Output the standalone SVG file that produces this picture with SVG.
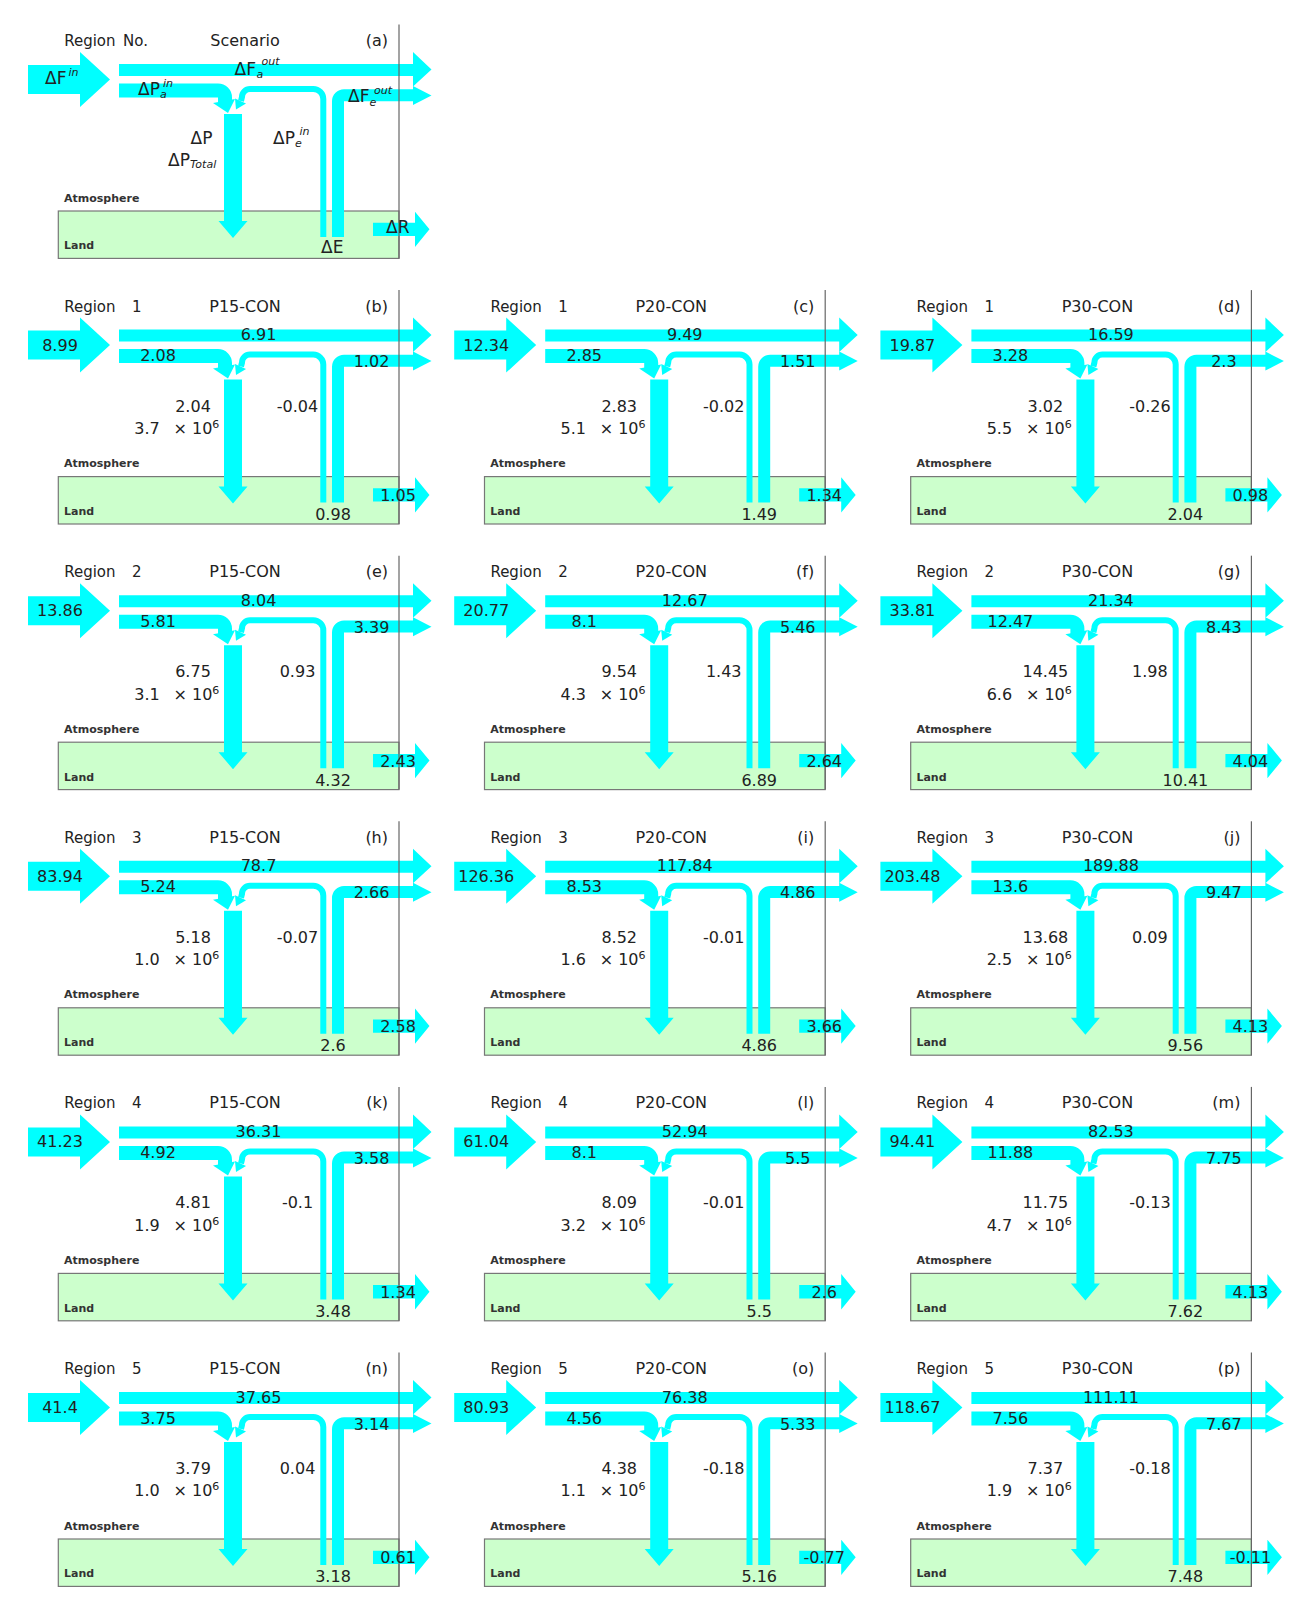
<svg xmlns="http://www.w3.org/2000/svg" width="1298" height="1613" viewBox="0 0 1298 1613">
<style>
text{font-family:"DejaVu Sans","Liberation Sans",sans-serif;fill:#222}
.h{font-size:15px}
.s{font-size:16px;text-anchor:middle}
.e{font-size:16px;text-anchor:end}
.v{font-size:16px;text-anchor:middle}
.t{font-size:16px}
.d{font-size:17px}
.sup{font-size:11px}
.it{font-size:11px;font-style:italic}
.lbl{font-size:11px;font-weight:bold;fill:#333}
.flow{fill:#00ffff}
.band{fill:none;stroke:#00ffff}
</style>
<defs>
<g id="frame">
<rect x="58.3" y="211" width="340.7" height="47.4" fill="#ccffcc" stroke="#777" stroke-width="1.2"/>
<text class="lbl" x="64" y="201.7">Atmosphere</text>
<text class="lbl" x="64" y="249.4">Land</text>
<g class="connectors">
<polygon class="flow" points="28,65 80,65 80,52 110,79.5 80,107 80,94 28,94"/>
<polygon class="flow" points="119,64 413,64 413,52 431.5,69.5 413,86.5 413,76 119,76"/>
<path class="band" stroke-width="14" d="M119,90.5 H218 A7 7 0 0 1 225 97.5 V103"/>
<polygon class="flow" points="213,103 235,99 228,113"/>
<path class="band" stroke-width="6" d="M323.3,237 V99 A10 10 0 0 0 313.3 89 H250 A8 8 0 0 0 242 97 L241 101"/>
<polygon class="flow" points="235,98.5 246,103.5 236,109.5"/>
<polygon class="flow" points="224,114 242,114 242,221 247.5,221 233,238 218.5,221 224,221"/>
<path class="band" stroke-width="12" d="M338,237 V101.2 A6 6 0 0 1 344 95.2 H414"/>
<polygon class="flow" points="413,86 431.5,95.5 413,105"/>
<polygon class="flow" points="373,222.7 415,222.7 415,211.7 429.5,229.3 415,247 415,236 373,236"/>
</g>
<line x1="399" y1="24.5" x2="399" y2="258.4" stroke="#666" stroke-width="1.2"/>
</g>
</defs>

<g id="panel-a">
<use href="#frame"/>
<text class="h" x="64.2" y="46">Region</text>
<text class="h" x="123" y="46">No.</text>
<text class="s" x="245" y="46">Scenario</text>
<text class="e" x="388" y="46">(a)</text>
<text class="d" x="45" y="83.5">ΔF<tspan class="it" x="68.5" y="76">in</tspan></text>
<text class="d" x="234.5" y="75">ΔF<tspan class="it" x="256.5" y="78.3">a</tspan><tspan class="it" x="261.5" y="65">out</tspan></text>
<text class="d" x="138" y="95">ΔP<tspan class="it" x="160" y="98.3">a</tspan><tspan class="it" x="163" y="86.7">in</tspan></text>
<text class="d" x="348" y="101.7">ΔF<tspan class="it" x="369.5" y="106">e</tspan><tspan class="it" x="374" y="94">out</tspan></text>
<text class="d" x="190.5" y="144">ΔP</text>
<text class="d" x="168" y="165.7">ΔP<tspan class="it" x="190" y="168.3">Total</tspan></text>
<text class="d" x="273" y="144">ΔP<tspan class="it" x="295" y="146.7">e</tspan><tspan class="it" x="299.5" y="135">in</tspan></text>
<text class="d" x="321" y="253.3">ΔE</text>
<text class="d" x="386" y="233.3">ΔR</text>
</g>

<g id="panel-b" transform="translate(0,265.6)">
<use href="#frame"/>
<text class="h" x="64.2" y="46">Region</text><text class="h" x="132" y="46">1</text>
<text class="s" x="245" y="46">P15-CON</text><text class="e" x="388" y="46">(b)</text>
<text class="v" x="60" y="85">8.99</text><text class="v" x="258.5" y="74.5">6.91</text>
<text class="v" x="158" y="95.5">2.08</text><text class="v" x="371.5" y="101.5">1.02</text>
<text class="v" x="193" y="146">2.04</text><text class="v" x="147" y="168.4">3.7</text>
<text class="t" x="173.5" y="168.4">× 10<tspan class="sup" dy="-6">6</tspan></text>
<text class="v" x="297.5" y="146">-0.04</text><text class="v" x="333" y="254.4">0.98</text>
<text class="v" x="398" y="235.4">1.05</text>
</g>

<g id="panel-c" transform="translate(426.2,265.6)">
<use href="#frame"/>
<text class="h" x="64.2" y="46">Region</text><text class="h" x="132" y="46">1</text>
<text class="s" x="245" y="46">P20-CON</text><text class="e" x="388" y="46">(c)</text>
<text class="v" x="60" y="85">12.34</text><text class="v" x="258.5" y="74.5">9.49</text>
<text class="v" x="158" y="95.5">2.85</text><text class="v" x="371.5" y="101.5">1.51</text>
<text class="v" x="193" y="146">2.83</text><text class="v" x="147" y="168.4">5.1</text>
<text class="t" x="173.5" y="168.4">× 10<tspan class="sup" dy="-6">6</tspan></text>
<text class="v" x="297.5" y="146">-0.02</text><text class="v" x="333" y="254.4">1.49</text>
<text class="v" x="398" y="235.4">1.34</text>
</g>

<g id="panel-d" transform="translate(852.4,265.6)">
<use href="#frame"/>
<text class="h" x="64.2" y="46">Region</text><text class="h" x="132" y="46">1</text>
<text class="s" x="245" y="46">P30-CON</text><text class="e" x="388" y="46">(d)</text>
<text class="v" x="60" y="85">19.87</text><text class="v" x="258.5" y="74.5">16.59</text>
<text class="v" x="158" y="95.5">3.28</text><text class="v" x="371.5" y="101.5">2.3</text>
<text class="v" x="193" y="146">3.02</text><text class="v" x="147" y="168.4">5.5</text>
<text class="t" x="173.5" y="168.4">× 10<tspan class="sup" dy="-6">6</tspan></text>
<text class="v" x="297.5" y="146">-0.26</text><text class="v" x="333" y="254.4">2.04</text>
<text class="v" x="398" y="235.4">0.98</text>
</g>

<g id="panel-e" transform="translate(0,531.2)">
<use href="#frame"/>
<text class="h" x="64.2" y="46">Region</text><text class="h" x="132" y="46">2</text>
<text class="s" x="245" y="46">P15-CON</text><text class="e" x="388" y="46">(e)</text>
<text class="v" x="60" y="85">13.86</text><text class="v" x="258.5" y="74.5">8.04</text>
<text class="v" x="158" y="95.5">5.81</text><text class="v" x="371.5" y="101.5">3.39</text>
<text class="v" x="193" y="146">6.75</text><text class="v" x="147" y="168.4">3.1</text>
<text class="t" x="173.5" y="168.4">× 10<tspan class="sup" dy="-6">6</tspan></text>
<text class="v" x="297.5" y="146">0.93</text><text class="v" x="333" y="254.4">4.32</text>
<text class="v" x="398" y="235.4">2.43</text>
</g>

<g id="panel-f" transform="translate(426.2,531.2)">
<use href="#frame"/>
<text class="h" x="64.2" y="46">Region</text><text class="h" x="132" y="46">2</text>
<text class="s" x="245" y="46">P20-CON</text><text class="e" x="388" y="46">(f)</text>
<text class="v" x="60" y="85">20.77</text><text class="v" x="258.5" y="74.5">12.67</text>
<text class="v" x="158" y="95.5">8.1</text><text class="v" x="371.5" y="101.5">5.46</text>
<text class="v" x="193" y="146">9.54</text><text class="v" x="147" y="168.4">4.3</text>
<text class="t" x="173.5" y="168.4">× 10<tspan class="sup" dy="-6">6</tspan></text>
<text class="v" x="297.5" y="146">1.43</text><text class="v" x="333" y="254.4">6.89</text>
<text class="v" x="398" y="235.4">2.64</text>
</g>

<g id="panel-g" transform="translate(852.4,531.2)">
<use href="#frame"/>
<text class="h" x="64.2" y="46">Region</text><text class="h" x="132" y="46">2</text>
<text class="s" x="245" y="46">P30-CON</text><text class="e" x="388" y="46">(g)</text>
<text class="v" x="60" y="85">33.81</text><text class="v" x="258.5" y="74.5">21.34</text>
<text class="v" x="158" y="95.5">12.47</text><text class="v" x="371.5" y="101.5">8.43</text>
<text class="v" x="193" y="146">14.45</text><text class="v" x="147" y="168.4">6.6</text>
<text class="t" x="173.5" y="168.4">× 10<tspan class="sup" dy="-6">6</tspan></text>
<text class="v" x="297.5" y="146">1.98</text><text class="v" x="333" y="254.4">10.41</text>
<text class="v" x="398" y="235.4">4.04</text>
</g>

<g id="panel-h" transform="translate(0,796.8)">
<use href="#frame"/>
<text class="h" x="64.2" y="46">Region</text><text class="h" x="132" y="46">3</text>
<text class="s" x="245" y="46">P15-CON</text><text class="e" x="388" y="46">(h)</text>
<text class="v" x="60" y="85">83.94</text><text class="v" x="258.5" y="74.5">78.7</text>
<text class="v" x="158" y="95.5">5.24</text><text class="v" x="371.5" y="101.5">2.66</text>
<text class="v" x="193" y="146">5.18</text><text class="v" x="147" y="168.4">1.0</text>
<text class="t" x="173.5" y="168.4">× 10<tspan class="sup" dy="-6">6</tspan></text>
<text class="v" x="297.5" y="146">-0.07</text><text class="v" x="333" y="254.4">2.6</text>
<text class="v" x="398" y="235.4">2.58</text>
</g>

<g id="panel-i" transform="translate(426.2,796.8)">
<use href="#frame"/>
<text class="h" x="64.2" y="46">Region</text><text class="h" x="132" y="46">3</text>
<text class="s" x="245" y="46">P20-CON</text><text class="e" x="388" y="46">(i)</text>
<text class="v" x="60" y="85">126.36</text><text class="v" x="258.5" y="74.5">117.84</text>
<text class="v" x="158" y="95.5">8.53</text><text class="v" x="371.5" y="101.5">4.86</text>
<text class="v" x="193" y="146">8.52</text><text class="v" x="147" y="168.4">1.6</text>
<text class="t" x="173.5" y="168.4">× 10<tspan class="sup" dy="-6">6</tspan></text>
<text class="v" x="297.5" y="146">-0.01</text><text class="v" x="333" y="254.4">4.86</text>
<text class="v" x="398" y="235.4">3.66</text>
</g>

<g id="panel-j" transform="translate(852.4,796.8)">
<use href="#frame"/>
<text class="h" x="64.2" y="46">Region</text><text class="h" x="132" y="46">3</text>
<text class="s" x="245" y="46">P30-CON</text><text class="e" x="388" y="46">(j)</text>
<text class="v" x="60" y="85">203.48</text><text class="v" x="258.5" y="74.5">189.88</text>
<text class="v" x="158" y="95.5">13.6</text><text class="v" x="371.5" y="101.5">9.47</text>
<text class="v" x="193" y="146">13.68</text><text class="v" x="147" y="168.4">2.5</text>
<text class="t" x="173.5" y="168.4">× 10<tspan class="sup" dy="-6">6</tspan></text>
<text class="v" x="297.5" y="146">0.09</text><text class="v" x="333" y="254.4">9.56</text>
<text class="v" x="398" y="235.4">4.13</text>
</g>

<g id="panel-k" transform="translate(0,1062.4)">
<use href="#frame"/>
<text class="h" x="64.2" y="46">Region</text><text class="h" x="132" y="46">4</text>
<text class="s" x="245" y="46">P15-CON</text><text class="e" x="388" y="46">(k)</text>
<text class="v" x="60" y="85">41.23</text><text class="v" x="258.5" y="74.5">36.31</text>
<text class="v" x="158" y="95.5">4.92</text><text class="v" x="371.5" y="101.5">3.58</text>
<text class="v" x="193" y="146">4.81</text><text class="v" x="147" y="168.4">1.9</text>
<text class="t" x="173.5" y="168.4">× 10<tspan class="sup" dy="-6">6</tspan></text>
<text class="v" x="297.5" y="146">-0.1</text><text class="v" x="333" y="254.4">3.48</text>
<text class="v" x="398" y="235.4">1.34</text>
</g>

<g id="panel-l" transform="translate(426.2,1062.4)">
<use href="#frame"/>
<text class="h" x="64.2" y="46">Region</text><text class="h" x="132" y="46">4</text>
<text class="s" x="245" y="46">P20-CON</text><text class="e" x="388" y="46">(l)</text>
<text class="v" x="60" y="85">61.04</text><text class="v" x="258.5" y="74.5">52.94</text>
<text class="v" x="158" y="95.5">8.1</text><text class="v" x="371.5" y="101.5">5.5</text>
<text class="v" x="193" y="146">8.09</text><text class="v" x="147" y="168.4">3.2</text>
<text class="t" x="173.5" y="168.4">× 10<tspan class="sup" dy="-6">6</tspan></text>
<text class="v" x="297.5" y="146">-0.01</text><text class="v" x="333" y="254.4">5.5</text>
<text class="v" x="398" y="235.4">2.6</text>
</g>

<g id="panel-m" transform="translate(852.4,1062.4)">
<use href="#frame"/>
<text class="h" x="64.2" y="46">Region</text><text class="h" x="132" y="46">4</text>
<text class="s" x="245" y="46">P30-CON</text><text class="e" x="388" y="46">(m)</text>
<text class="v" x="60" y="85">94.41</text><text class="v" x="258.5" y="74.5">82.53</text>
<text class="v" x="158" y="95.5">11.88</text><text class="v" x="371.5" y="101.5">7.75</text>
<text class="v" x="193" y="146">11.75</text><text class="v" x="147" y="168.4">4.7</text>
<text class="t" x="173.5" y="168.4">× 10<tspan class="sup" dy="-6">6</tspan></text>
<text class="v" x="297.5" y="146">-0.13</text><text class="v" x="333" y="254.4">7.62</text>
<text class="v" x="398" y="235.4">4.13</text>
</g>

<g id="panel-n" transform="translate(0,1328)">
<use href="#frame"/>
<text class="h" x="64.2" y="46">Region</text><text class="h" x="132" y="46">5</text>
<text class="s" x="245" y="46">P15-CON</text><text class="e" x="388" y="46">(n)</text>
<text class="v" x="60" y="85">41.4</text><text class="v" x="258.5" y="74.5">37.65</text>
<text class="v" x="158" y="95.5">3.75</text><text class="v" x="371.5" y="101.5">3.14</text>
<text class="v" x="193" y="146">3.79</text><text class="v" x="147" y="168.4">1.0</text>
<text class="t" x="173.5" y="168.4">× 10<tspan class="sup" dy="-6">6</tspan></text>
<text class="v" x="297.5" y="146">0.04</text><text class="v" x="333" y="254.4">3.18</text>
<text class="v" x="398" y="235.4">0.61</text>
</g>

<g id="panel-o" transform="translate(426.2,1328)">
<use href="#frame"/>
<text class="h" x="64.2" y="46">Region</text><text class="h" x="132" y="46">5</text>
<text class="s" x="245" y="46">P20-CON</text><text class="e" x="388" y="46">(o)</text>
<text class="v" x="60" y="85">80.93</text><text class="v" x="258.5" y="74.5">76.38</text>
<text class="v" x="158" y="95.5">4.56</text><text class="v" x="371.5" y="101.5">5.33</text>
<text class="v" x="193" y="146">4.38</text><text class="v" x="147" y="168.4">1.1</text>
<text class="t" x="173.5" y="168.4">× 10<tspan class="sup" dy="-6">6</tspan></text>
<text class="v" x="297.5" y="146">-0.18</text><text class="v" x="333" y="254.4">5.16</text>
<text class="v" x="398" y="235.4">-0.77</text>
</g>

<g id="panel-p" transform="translate(852.4,1328)">
<use href="#frame"/>
<text class="h" x="64.2" y="46">Region</text><text class="h" x="132" y="46">5</text>
<text class="s" x="245" y="46">P30-CON</text><text class="e" x="388" y="46">(p)</text>
<text class="v" x="60" y="85">118.67</text><text class="v" x="258.5" y="74.5">111.11</text>
<text class="v" x="158" y="95.5">7.56</text><text class="v" x="371.5" y="101.5">7.67</text>
<text class="v" x="193" y="146">7.37</text><text class="v" x="147" y="168.4">1.9</text>
<text class="t" x="173.5" y="168.4">× 10<tspan class="sup" dy="-6">6</tspan></text>
<text class="v" x="297.5" y="146">-0.18</text><text class="v" x="333" y="254.4">7.48</text>
<text class="v" x="398" y="235.4">-0.11</text>
</g>
</svg>
